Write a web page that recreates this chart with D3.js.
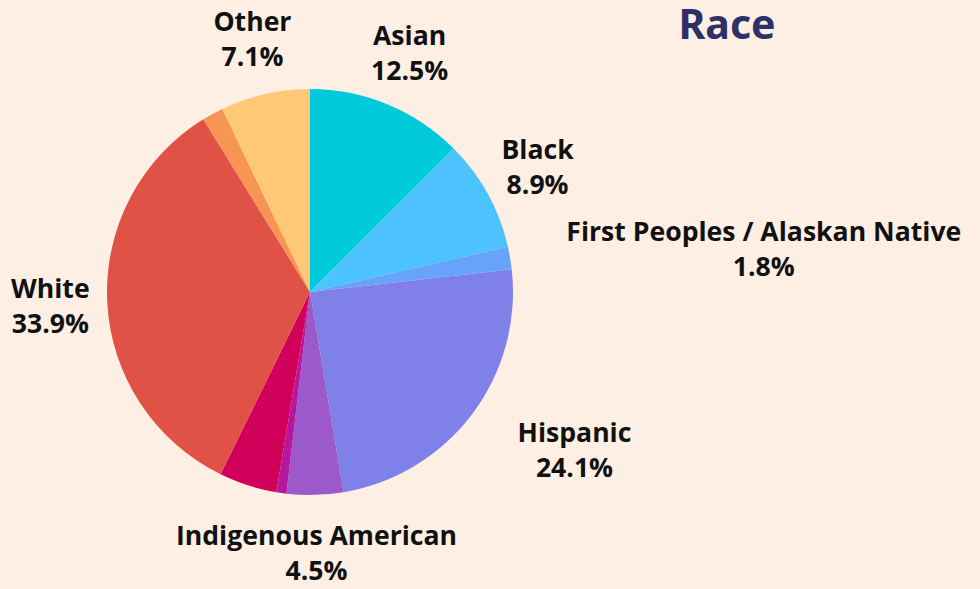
<!DOCTYPE html>
<html lang="en">
<head>
<meta charset="utf-8">
<title>Race</title>
<script src="https://cdn.jsdelivr.net/npm/d3@7"></script>
<style>
body {margin: 0; background: #FDEFE3;}
svg {display: block;}
.lbl {font-family: "Open Sans", "Noto Sans", sans-serif; font-weight: 700; font-size: 26.6px; fill: #111;}
.title {font-family: "Noto Sans", sans-serif; font-weight: 700; font-size: 41px; fill: #2E3068;}
</style>
</head>
<body>
<svg width="980" height="589"></svg>
<script>
// slices, clockwise from 12 o'clock
var categories = ["Asian", "Black", "First Peoples / Alaskan Native", "Hispanic", "Indigenous American",
                  "Pacific Islander", "Two or More", "White", "Unknown", "Other"];
var values = [12.5, 8.9, 1.8, 24.1, 4.5, 0.8, 4.6, 33.9, 1.7, 7.1];
var colors = ["#00C9DB", "#4CC3FF", "#66A3FB", "#8081E8", "#9B59C9",
              "#B5179E", "#D1005A", "#E05246", "#F79554", "#FFC876"];
var labelled = ["Asian", "Black", "First Peoples / Alaskan Native", "Hispanic", "Indigenous American", "White", "Other"];

var svg = d3.select("svg");
var cx = 310, cy = 292, r = 203, labelR = 260;

var data = categories.map(function(c, i) { return {name: c, value: values[i], color: colors[i]}; });

var pie = d3.pie().sort(null).value(function(d) { return d.value; });
var arc = d3.arc().innerRadius(0).outerRadius(r);
var arcs = pie(data);

var g = svg.append("g").attr("transform", "translate(" + cx + "," + cy + ")");

g.selectAll("path")
  .data(arcs)
  .enter()
  .append("path")
    .attr("d", arc)
    .attr("fill", function(d) { return d.data.color; });

// labels : centred on the label point, except on the right side where the block starts there
var lab = g.selectAll("text.lbl")
  .data(arcs.filter(function(d) { return labelled.indexOf(d.data.name) >= 0; }))
  .enter()
  .append("text")
    .attr("class", "lbl")
    .attr("text-anchor", "middle");

lab.append("tspan").attr("x", 0).attr("y", -7).text(function(d) { return d.data.name; });
lab.append("tspan").attr("x", 0).attr("y", 28).text(function(d) { return d.data.value.toFixed(1) + "%"; });

lab.attr("transform", function(d) {
    var a = (d.startAngle + d.endAngle) / 2;
    var x = labelR * Math.sin(a), y = -labelR * Math.cos(a);
    var deg = a * 180 / Math.PI;
    if (deg > 75 && deg < 150) {
        x += this.getBBox().width / 2;
    }
    return "translate(" + x + "," + y + ")";
});

svg.append("text")
  .attr("class", "title")
  .attr("x", 727)
  .attr("y", 39)
  .attr("text-anchor", "middle")
  .text("Race");
</script>
</body>
</html>
